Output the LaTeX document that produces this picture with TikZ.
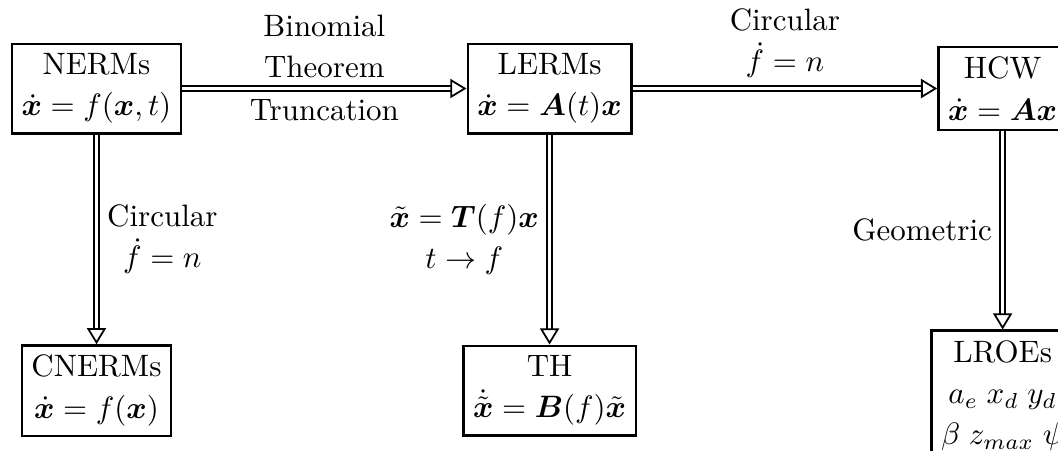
\RequirePackage{fix-cm}
\documentclass[tikz,border=0pt]{standalone}
\usepackage{amsmath,amssymb,bm}
\usepackage{tikz}
\usetikzlibrary{arrows.meta}
\newcommand{\diagfont}{\fontsize{10.5}{14}\selectfont}
\tikzset{
  model/.style={draw,thick,align=center,inner sep=3.3pt,font=\diagfont},
  impl/.style={double,double distance=1.1pt,line width=0.6pt,
               -{Triangle[open,length=5.5pt,width=6.5pt]}},
  elab/.style={align=center,midway,font=\diagfont}
}

\begin{document}
\begin{tikzpicture}[x=1cm,y=1cm]
    \useasboundingbox (-1.150,1.055) rectangle (11.46,-4.309);
    % --- top row
    \node[model] (nerm) at (0,0)     {NERMs\\$\dot{\bm x}=f(\bm x,t)$};
    \node[model] (lerm) at (5.4,0)   {LERMs\\$\dot{\bm x}=\bm A(t)\bm x$};
    \node[model] (hcw)  at (10.8,0)  {HCW\\$\dot{\bm x}=\bm A\bm x$};
    % --- bottom row
    \node[model] (cnerm) at (0,-3.6)    {CNERMs\\$\dot{\bm x}=f(\bm x)$};
    \node[model] (th)    at (5.4,-3.6)  {TH\\$\dot{\tilde{\bm x}}=\bm B(f)\tilde{\bm x}$};
    \node[model] (lroe)  at (10.8,-3.66) {LROEs\\$a_e\;x_d\;y_d$\\$\beta\;z_{max}\;\psi$};
    % --- horizontal links
    \draw[impl] (nerm) -- (lerm)
      node[elab,above] {Binomial\\Theorem}
      node[elab,below] {Truncation};
    \draw[impl] (lerm) -- (hcw)
      node[elab,above] {Circular\\$\dot f=n$};
    % --- vertical links
    \draw[impl] (nerm) -- (cnerm)
      node[elab,right] {Circular\\$\dot f=n$};
    \draw[impl] (lerm) -- (th)
      node[elab,left] {$\tilde{\bm x}=\bm T(f)\bm x$\\$t\to f$};
    \draw[impl] (hcw) -- (lroe)
      node[elab,left] {Geometric};
  \end{tikzpicture}
\end{document}
